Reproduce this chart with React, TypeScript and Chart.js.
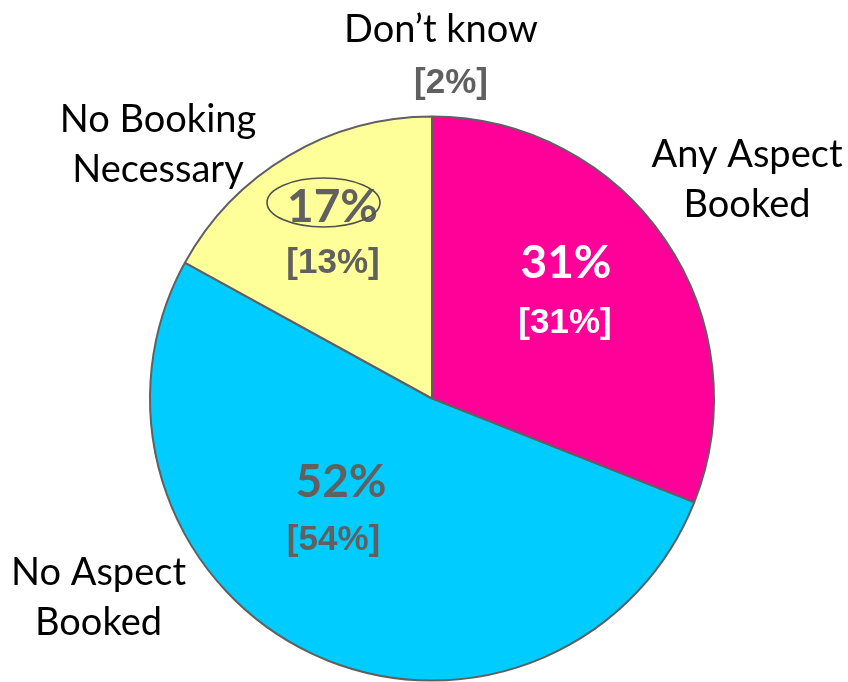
import React, { useEffect, useRef } from "react";
import { Chart, registerables } from "chart.js";

Chart.register(...registerables);

const categories = ["Any Aspect Booked", "No Aspect Booked", "No Booking Necessary"];
const categoryLines = [["Any Aspect", "Booked"], ["No Aspect", "Booked"], ["No Booking", "Necessary"]];
const currentValues = [31, 52, 17];
const previousValues = [31, 54, 13];
const dontKnowLabel = "Don\u2019t know";
const dontKnowPrevious = 2;
const sliceColors = ["#FF0099", "#00CCFF", "#FFFF99"];
const valueTextColors = ["#FFFFFF", "#606060", "#606060"];

const GRAY = "#606060";
const LABEL_FONT = "Lato, 'Open Sans', sans-serif";
const VALUE_FONT = "bold 46px Lato, 'Open Sans', sans-serif";
const PREV_FONT = "bold 35px 'Liberation Sans', Arial, sans-serif";

// offsets (px) from pie centre for annotation text baselines
const valuePos = [[134, -120.5], [-91, 98.5], [-99.5, -176.5]];
const prevPos = [[133, -65.5], [-98.5, 151.5], [-99, -125.5]];
const namePos = [[315, -231.5], [-333.5, 186.5], [-274, -266.5]];
const dontKnowPos = [9, -356.5];
const dontKnowPrevPos = [19, -305.5];

const labelsPlugin = {
  id: "pieLabels",
  afterDatasetsDraw(chart: any) {
    const ctx = chart.ctx as CanvasRenderingContext2D;
    const arc = chart.getDatasetMeta(0).data[0];
    const cx = arc.x;
    const cy = arc.y;
    ctx.save();
    ctx.textAlign = "center";
    ctx.textBaseline = "alphabetic";

    // category names outside the pie
    ctx.fillStyle = "#000000";
    ctx.font = `38px ${LABEL_FONT}`;
    categoryLines.forEach((lines, i) => {
      lines.forEach((line, j) => {
        ctx.fillText(line, cx + namePos[i][0], cy + namePos[i][1] + j * 50);
      });
    });
    ctx.fillText(dontKnowLabel, cx + dontKnowPos[0], cy + dontKnowPos[1]);
    ctx.fillStyle = GRAY;
    ctx.font = PREV_FONT;
    ctx.fillText(`[${dontKnowPrevious}%]`, cx + dontKnowPrevPos[0], cy + dontKnowPrevPos[1]);

    // values inside slices
    currentValues.forEach((v, i) => {
      ctx.fillStyle = valueTextColors[i];
      ctx.font = VALUE_FONT;
      ctx.fillText(`${v}%`, cx + valuePos[i][0], cy + valuePos[i][1]);
      ctx.font = PREV_FONT;
      ctx.fillText(`[${previousValues[i]}%]`, cx + prevPos[i][0], cy + prevPos[i][1]);
    });

    // ellipse highlighting the No Booking Necessary value
    ctx.beginPath();
    ctx.ellipse(cx - 108.5, cy - 196, 56.5, 24.5, 0, 0, Math.PI * 2);
    ctx.strokeStyle = "#505050";
    ctx.lineWidth = 1.6;
    ctx.stroke();
    ctx.restore();
  },
};

export default function App() {
  const ref = useRef<HTMLCanvasElement | null>(null);
  useEffect(() => {
    if (!ref.current) return;
    const chart = new Chart(ref.current, {
      type: "pie",
      data: {
        labels: categories,
        datasets: [
          {
            data: currentValues,
            backgroundColor: sliceColors,
            borderColor: "#606060",
            borderWidth: 2,
          },
        ],
      },
      options: {
        responsive: false,
        animation: false,
        layout: { padding: { left: 149, right: 133, top: 115.5, bottom: 0.5 } },
        plugins: {
          legend: { display: false },
          tooltip: { enabled: false },
        },
      },
      plugins: [labelsPlugin],
    });
    const fonts: any = (document as any).fonts;
    if (fonts && fonts.load) {
      Promise.all([
        fonts.load("38px Lato"),
        fonts.load("bold 46px Lato"),
        fonts.load("bold 35px 'Liberation Sans'"),
      ]).then(() => chart.draw()).catch(() => {});
    }
    return () => chart.destroy();
  }, []);
  return (
    <div style={{ position: "fixed", left: 0, top: 0, width: 848, height: 682, background: "#fff" }}>
      <canvas ref={ref} width={848} height={682} style={{ display: "block" }} />
    </div>
  );
}
